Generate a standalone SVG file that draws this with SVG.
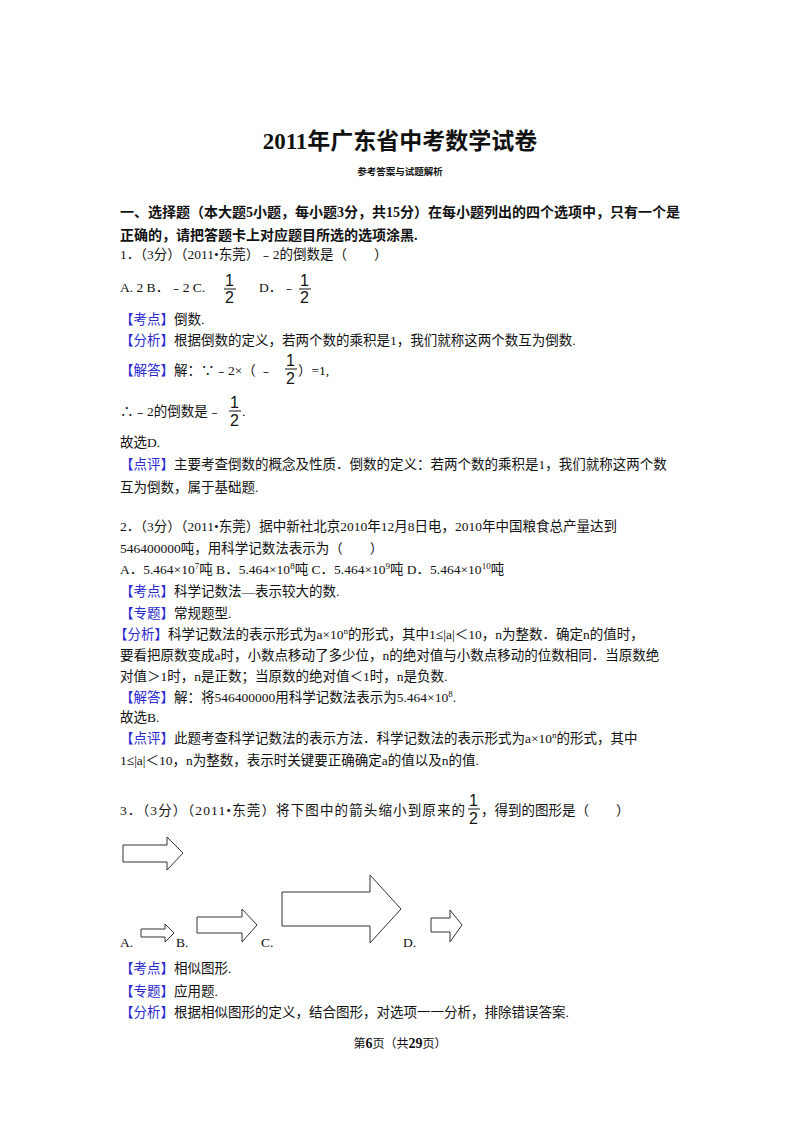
<svg xmlns="http://www.w3.org/2000/svg" width="800" height="1132" viewBox="0 0 800 1132">
<style>
text{font-family:"Liberation Serif","Noto Sans CJK SC",serif;font-size:13.5px;fill:#111}
.b{font-weight:bold}
.k{fill:#2a2ad0}
.s{font-size:9px}
.f{font-family:"Liberation Sans","Noto Sans CJK SC",sans-serif;font-size:16px}
.ar{fill:#fff;stroke:#333;stroke-width:1}
</style>
<rect width="800" height="1132" fill="#fff"/>
<text x="400" y="149" text-anchor="middle" class="b" style="font-size:23px">2011年广东省中考数学试卷</text>
<text x="400" y="175" text-anchor="middle" class="b" style="font-size:9.5px">参考答案与试题解析</text>
<text x="120" y="217" class="b" style="font-size:14px">一、选择题（本大题5小题，每小题3分，共15分）在每小题列出的四个选项中，只有一个是</text>
<text x="120" y="240" class="b" style="font-size:14px">正确的，请把答题卡上对应题目所选的选项涂黑.</text>
<text x="120" y="259">1．（3分）（2011•东莞）﹣2的倒数是（　　）</text>
<text x="120" y="292">A. 2 B．﹣2  C.</text>
<text x="225" y="286" class="f">1</text><line x1="224" y1="289" x2="236" y2="289" stroke="#111"/><text x="225" y="303" class="f">2</text>
<text x="259" y="292">D．﹣</text>
<text x="300" y="286" class="f">1</text><line x1="299" y1="289" x2="311" y2="289" stroke="#111"/><text x="300" y="303" class="f">2</text>
<text x="120" y="324"><tspan class="k">【考点】</tspan>倒数.</text>
<text x="120" y="345"><tspan class="k">【分析】</tspan>根据倒数的定义，若两个数的乘积是1，我们就称这两个数互为倒数.</text>
<text x="120" y="375"><tspan class="k">【解答】</tspan>解：∵﹣2×（ ﹣</text>
<text x="286" y="366" class="f">1</text><line x1="285" y1="369" x2="297" y2="369" stroke="#111"/><text x="286" y="384" class="f">2</text>
<text x="298" y="375">）=1,</text>
<text x="120" y="416">∴﹣2的倒数是﹣</text>
<text x="230" y="408" class="f">1</text><line x1="229" y1="411" x2="241" y2="411" stroke="#111"/><text x="230" y="426" class="f">2</text>
<text x="242" y="416">.</text>
<text x="120" y="447">故选D.</text>
<text x="120" y="469"><tspan class="k">【点评】</tspan>主要考查倒数的概念及性质．倒数的定义：若两个数的乘积是1，我们就称这两个数</text>
<text x="120" y="492">互为倒数，属于基础题.</text>
<text x="120" y="531">2．（3分）（2011•东莞）据中新社北京2010年12月8日电，2010年中国粮食总产量达到</text>
<text x="120" y="553">546400000吨，用科学记数法表示为（　　）</text>
<text x="120" y="574">A．5.464×10<tspan dy="-5" class="s">7</tspan><tspan dy="5">吨 B．5.464×10</tspan><tspan dy="-5" class="s">8</tspan><tspan dy="5">吨 C．5.464×10</tspan><tspan dy="-5" class="s">9</tspan><tspan dy="5">吨 D．5.464×10</tspan><tspan dy="-5" class="s">10</tspan><tspan dy="5">吨</tspan></text>
<text x="120" y="596"><tspan class="k">【考点】</tspan>科学记数法—表示较大的数.</text>
<text x="120" y="618"><tspan class="k">【专题】</tspan>常规题型.</text>
<text x="114" y="639"><tspan class="k">【分析】</tspan>科学记数法的表示形式为a×10<tspan dy="-5" class="s">n</tspan><tspan dy="5">的形式，其中1≤|a|＜10，n为整数．确定n的值时，</tspan></text>
<text x="120" y="660">要看把原数变成a时，小数点移动了多少位，n的绝对值与小数点移动的位数相同．当原数绝</text>
<text x="120" y="681">对值＞1时，n是正数；当原数的绝对值＜1时，n是负数.</text>
<text x="120" y="702"><tspan class="k">【解答】</tspan>解：将546400000用科学记数法表示为5.464×10<tspan dy="-5" class="s">8</tspan><tspan dy="5">.</tspan></text>
<text x="120" y="722">故选B.</text>
<text x="120" y="743"><tspan class="k">【点评】</tspan>此题考查科学记数法的表示方法．科学记数法的表示形式为a×10<tspan dy="-5" class="s">n</tspan><tspan dy="5">的形式，其中</tspan></text>
<text x="120" y="765">1≤|a|＜10，n为整数，表示时关键要正确确定a的值以及n的值.</text>
<text x="120" y="815" textLength="345">3．（3分）（2011•东莞）将下图中的箭头缩小到原来的</text>
<text x="469" y="806" class="f">1</text><line x1="468" y1="809" x2="480" y2="809" stroke="#111"/><text x="469" y="824" class="f">2</text>
<text x="481" y="815">，得到的图形是（　　）</text>
<g id="arrows">
<polygon class="ar" points="123,845 167,845 167,837 183,853 167,870 167,862 123,862"/>
<polygon class="ar" points="141,929 165,929 165,924 174,933 165,942 165,937 141,937"/>
<polygon class="ar" points="197,917 242,917 242,909 257,925 242,942 242,933 197,933"/>
<polygon class="ar" points="282,892 370,892 370,875 401,909 370,943 370,926 282,926"/>
<polygon class="ar" points="431,918 450,918 450,910 462,925 450,942 450,932 431,932"/>
</g>
<text x="120" y="947">A.</text><text x="176" y="947">B.</text><text x="261" y="947">C.</text><text x="403" y="947">D.</text>
<text x="120" y="973"><tspan class="k">【考点】</tspan>相似图形.</text>
<text x="120" y="996"><tspan class="k">【专题】</tspan>应用题.</text>
<text x="120" y="1017"><tspan class="k">【分析】</tspan>根据相似图形的定义，结合图形，对选项一一分析，排除错误答案.</text>
<text x="400" y="1048" text-anchor="middle" style="font-size:12px">第<tspan class="b" style="font-size:14px">6</tspan>页（共<tspan class="b" style="font-size:14px">29</tspan>页）</text>
</svg>
